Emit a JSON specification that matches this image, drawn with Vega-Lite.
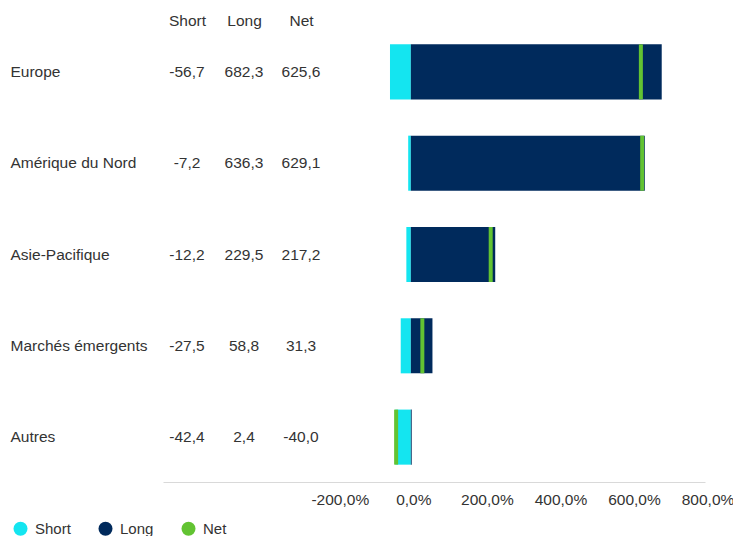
{
  "$schema": "https://vega.github.io/schema/vega-lite/v6.json",
  "width": 542,
  "height": 455,
  "padding": {"left": 10, "top": 13, "right": 0, "bottom": 0},
  "config": {
    "view": {"stroke": null},
    "font": "Liberation Sans",
    "locale": {"number": {"decimal": ",", "thousands": " ", "grouping": [3], "currency": ["", " €"], "minus": "-"}}
  },
  "data": {"values": [
    {"region": "Europe", "series": "Short", "value": -56.7},
    {"region": "Europe", "series": "Long", "value": 682.3},
    {"region": "Europe", "series": "Net", "value": 625.6},
    {"region": "Amérique du Nord", "series": "Short", "value": -7.2},
    {"region": "Amérique du Nord", "series": "Long", "value": 636.3},
    {"region": "Amérique du Nord", "series": "Net", "value": 629.1},
    {"region": "Asie-Pacifique", "series": "Short", "value": -12.2},
    {"region": "Asie-Pacifique", "series": "Long", "value": 229.5},
    {"region": "Asie-Pacifique", "series": "Net", "value": 217.2},
    {"region": "Marchés émergents", "series": "Short", "value": -27.5},
    {"region": "Marchés émergents", "series": "Long", "value": 58.8},
    {"region": "Marchés émergents", "series": "Net", "value": 31.3},
    {"region": "Autres", "series": "Short", "value": -42.4},
    {"region": "Autres", "series": "Long", "value": 2.4},
    {"region": "Autres", "series": "Net", "value": -40.0}
  ]},
  "encoding": {
    "y": {
      "field": "region", "type": "nominal",
      "sort": ["Europe", "Amérique du Nord", "Asie-Pacifique", "Marchés émergents", "Autres"],
      "scale": {"paddingInner": 0.397, "paddingOuter": 0.19},
      "axis": {"title": null, "domain": false, "ticks": false, "tickSize": 0, "labelAlign": "left", "labelPadding": 153, "labelFontSize": 15.5, "labelColor": "#333333"}
    }
  },
  "layer": [
    {
      "layer": [
        {
          "transform": [{"filter": "datum.series !== 'Net'"}],
          "mark": {"type": "bar", "opacity": 1},
          "encoding": {
            "x": {
              "field": "value", "type": "quantitative", "stack": null,
              "scale": {"domain": [-674, 800], "nice": false, "zero": false},
              "axis": {"orient": "bottom", "values": [-200, 0, 200, 400, 600, 800], "labelExpr": "datum.value + ',0%'", "labelOverlap": false, "labelFlush": false, "labelBound": false, "labelOffset": 2.5, "title": null, "ticks": false, "grid": false, "domainColor": "#d9d9d9", "labelFontSize": 15.5, "labelColor": "#333333", "labelPadding": 10}
            },
            "color": {
              "field": "series", "type": "nominal",
              "scale": {"domain": ["Short", "Long", "Net"], "range": ["#14E5F0", "#002A5C", "#62C332"]},
              "legend": {"orient": "none", "legendX": -150, "legendY": 494, "direction": "horizontal", "title": null, "symbolType": "circle", "symbolSize": 196, "symbolOpacity": 1, "symbolStrokeWidth": 0, "labelFontSize": 15, "labelColor": "#333333", "columnPadding": 27, "labelOffset": 7}
            }
          }
        },
        {
          "transform": [{"filter": "datum.series === 'Net'"}],
          "mark": {"type": "tick", "thickness": 4, "size": 55, "opacity": 1},
          "encoding": {
            "x": {"field": "value", "type": "quantitative"},
            "color": {"field": "series", "type": "nominal"}
          }
        }
      ]
    },
    {
      "mark": {"type": "text", "align": "center", "baseline": "middle", "fontSize": 15.5, "color": "#333333"},
      "encoding": {
        "x": {
          "field": "series", "type": "nominal",
          "scale": {"type": "point", "domain": ["Short", "Long", "Net"], "range": [24, 138], "padding": 0},
          "axis": {"orient": "top", "title": null, "domain": false, "ticks": false, "labelAngle": 0, "labelFontSize": 15.5, "labelColor": "#333333", "labelPadding": -1}
        },
        "text": {"field": "value", "type": "quantitative", "format": ".1f"}
      }
    }
  ],
  "resolve": {"scale": {"x": "independent"}}
}
